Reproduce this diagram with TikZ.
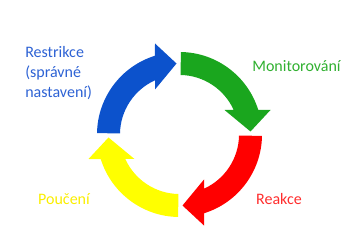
\documentclass[tikz,border=0pt]{standalone}
\usepackage{fontspec}
\setmainfont{Carlito}
\usepackage{tikz}
\usetikzlibrary{positioning}
\definecolor{cycleblue}{RGB}{12,82,204}
\definecolor{cyclegreen}{RGB}{26,166,30}
\definecolor{cyclered}{RGB}{255,0,0}
\definecolor{cycleyellow}{RGB}{255,255,0}
\definecolor{textblue}{RGB}{45,98,212}
\definecolor{textgreen}{RGB}{48,176,48}
\definecolor{textred}{RGB}{255,45,45}
\definecolor{textyellow}{RGB}{250,238,0}

\begin{document}
\begin{tikzpicture}[
        x=0.75pt, y=0.75pt,
        every node/.style={font=\fontsize{12}{15}\selectfont, inner sep=0pt},
        label/.style={align=left}
    ]
        \useasboundingbox (0,0) rectangle (360,250);
        % four curved arrows round the cycle
        \begin{scope}[shift={(179.5,115.5)}]
            \foreach \col/\rot in {cycleblue/0, cyclegreen/-90, cyclered/-180, cycleyellow/-270} {
                \begin{scope}[rotate=\rot]
                    \fill[\col] (179:82.5) arc[start angle=179, end angle=107.3, radius=82.5]
                        -- (-24.5,91) -- (-3,71) -- (-24.5,45) -- (-24.5,54.2)
                        arc[start angle=114.3, end angle=179, radius=59.5] -- cycle;
                \end{scope}
            }
        \end{scope}
        % labels
        \node[label, anchor=west, text=textblue] (restrikce) at (25,177) {Restrikce\\(správné\\nastavení)};
        \node[text=textgreen] (monitor) at (296.5,184) {Monitorování};
        \node[text=textred] (reakce) at (279,51) {Reakce};
        \node[text=textyellow] (pouceni) at (64,51) {Poučení};
    \end{tikzpicture}
\end{document}
